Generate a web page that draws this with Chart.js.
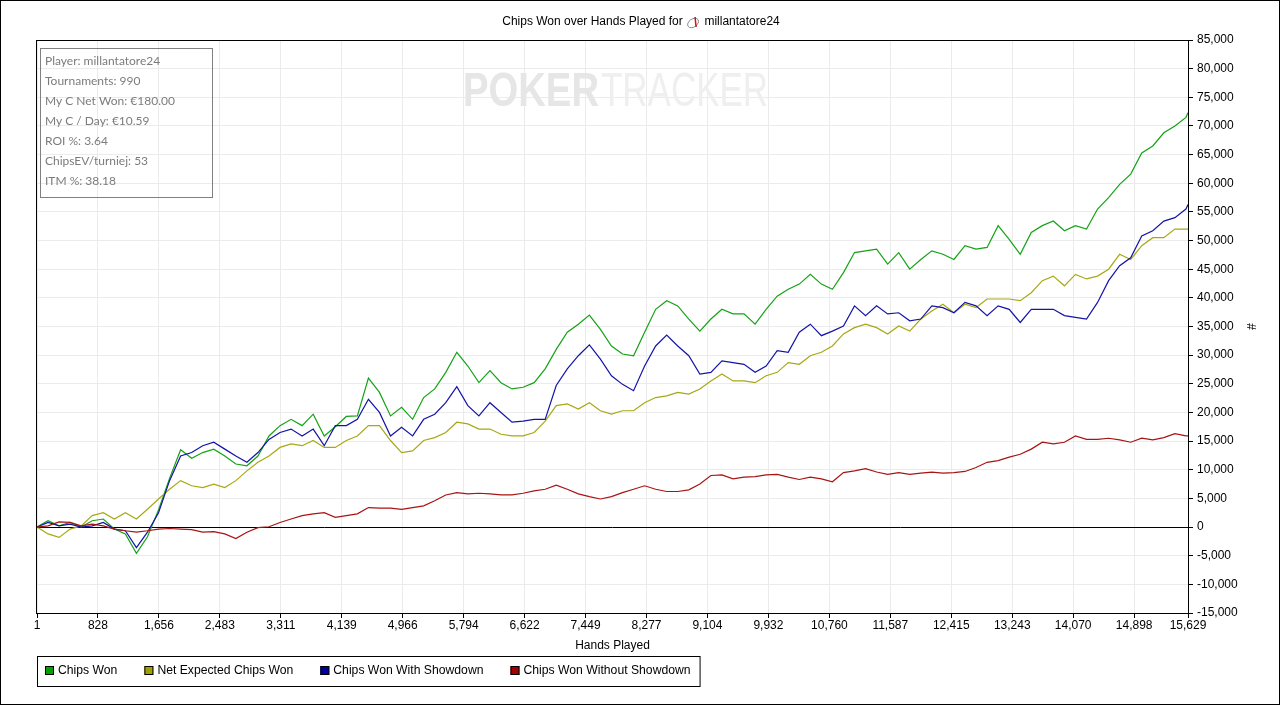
<!DOCTYPE html>
<html>
<head>
<meta charset="utf-8">
<title>Chips Won over Hands Played</title>
<script src="https://cdn.jsdelivr.net/npm/chart.js@4.4.1/dist/chart.umd.min.js"></script>
<style>
    html, body { margin: 0; padding: 0; background: #fff; overflow: hidden; }
    #chart { display: block; }
</style>
</head>
<body>
<canvas id="chart" width="1282" height="705"></canvas>
<script>
const hands = [1, 151, 301, 451, 601, 751, 901, 1051, 1201, 1351, 1501, 1651, 1801, 1951, 2101, 2251, 2401, 2551, 2701, 2851,
    3001, 3151, 3301, 3451, 3601, 3751, 3901, 4051, 4201, 4351, 4501, 4651, 4801, 4951, 5101, 5251, 5401, 5551, 5701, 5851,
    6001, 6151, 6301, 6451, 6601, 6751, 6901, 7051, 7201, 7351, 7501, 7651, 7801, 7951, 8101, 8251, 8401, 8551, 8701, 8851,
    9001, 9151, 9301, 9451, 9601, 9751, 9901, 10051, 10201, 10351, 10501, 10651, 10801, 10951, 11101, 11251, 11401, 11551, 11701, 11851,
    12001, 12151, 12301, 12451, 12601, 12751, 12901, 13051, 13201, 13351, 13501, 13651, 13801, 13951, 14101, 14251, 14401, 14551, 14701, 14851,
    15001, 15151, 15301, 15451, 15601, 15629];

const chipsWon = [0, 1100, 200, 800, 0, 1100, 1400, -350, -1200, -4600, -1700, 3000, 8500, 13500, 12000, 13000, 13600, 12400, 11000, 10700,
    12400, 15900, 17700, 18800, 17700, 19700, 15900, 17500, 19300, 19400, 26000, 23500, 19400, 20900, 18800, 22600, 24100, 27000, 30500, 28100,
    25200, 27300, 25200, 24100, 24400, 25200, 27600, 31000, 34000, 35400, 37000, 34500, 31600, 30200, 29900, 34000, 38000, 39500, 38600, 36300,
    34200, 36300, 38000, 37200, 37200, 35400, 38000, 40300, 41500, 42400, 44100, 42400, 41500, 44400, 47900, 48200, 48500, 45900, 47900, 45000,
    46700, 48200, 47600, 46700, 49100, 48500, 48800, 52600, 50200, 47600, 51400, 52600, 53400, 51700, 52600, 52000, 55500, 57500, 59800, 61600,
    65300, 66500, 68800, 70000, 71500, 72300];

const netExpected = [0, -1200, -1800, -350, 200, 2000, 2500, 1400, 2500, 1400, 3100, 4900, 6600, 8100, 7200, 6900, 7500, 6900, 8100, 9800,
    11300, 12400, 13900, 14500, 14200, 15100, 13900, 13900, 15100, 15900, 17700, 17700, 15100, 13000, 13300, 15100, 15600, 16500, 18300, 18000,
    17100, 17100, 16200, 15900, 15900, 16500, 18500, 21200, 21500, 20600, 21700, 20300, 19700, 20300, 20300, 21700, 22600, 22900, 23500, 23200,
    24100, 25500, 26700, 25500, 25500, 25200, 26400, 27000, 28700, 28400, 29900, 30500, 31600, 33700, 34800, 35400, 34800, 33700, 35100, 34200,
    36300, 37700, 38900, 37400, 38900, 38300, 39800, 39800, 39800, 39500, 40900, 43000, 43800, 42100, 44100, 43300, 43800, 45000, 47600, 46700,
    49100, 50500, 50500, 52000, 52000, 52000];

const withShowdown = [0, 800, 200, 500, 0, 200, 800, -350, -650, -3600, -900, 2500, 8100, 12400, 13000, 14200, 14800, 13600, 12400, 11300,
    13000, 15300, 16500, 17100, 15900, 17100, 14200, 17700, 17700, 18800, 22300, 20000, 15900, 17400, 15900, 18800, 19700, 21700, 24500, 21200,
    19400, 21700, 20000, 18300, 18500, 18800, 18800, 24700, 27600, 29900, 31800, 29300, 26400, 24900, 23800, 28100, 31600, 33500, 31600, 29900,
    26700, 27000, 29000, 28700, 28400, 27000, 28100, 30800, 30500, 34000, 35400, 33400, 34200, 35100, 38600, 36900, 38600, 37200, 37400, 36000,
    36300, 38600, 38300, 37400, 39200, 38600, 36900, 38600, 38000, 35700, 38000, 38000, 38000, 36900, 36600, 36300, 39200, 43000, 45600, 47000,
    50800, 51700, 53400, 54000, 55500, 56300];

const withoutShowdown = [0, 200, 900, 800, 200, 500, 200, -350, -650, -900, -650, -350, -250, -350, -450, -900, -800, -1200, -2000, -900,
    -100, 50, 800, 1400, 2000, 2300, 2500, 1700, 2000, 2300, 3400, 3300, 3300, 3100, 3400, 3700, 4600, 5600, 6000, 5800,
    5900, 5800, 5600, 5600, 5900, 6300, 6600, 7300, 6600, 5800, 5300, 4900, 5300, 6000, 6600, 7200, 6600, 6200, 6200, 6500,
    7500, 9000, 9100, 8400, 8700, 8800, 9100, 9200, 8700, 8300, 8700, 8400, 7900, 9500, 9800, 10200, 9600, 9200, 9500, 9200,
    9400, 9600, 9400, 9500, 9700, 10400, 11300, 11600, 12200, 12700, 13600, 14800, 14500, 14800, 15900, 15300, 15300, 15500, 15200, 14800,
    15500, 15200, 15600, 16300, 15900, 15900];

const seriesNames = ["Chips Won", "Net Expected Chips Won", "Chips Won With Showdown", "Chips Won Without Showdown"];
const xTicks = [1, 828, 1656, 2483, 3311, 4139, 4966, 5794, 6622, 7449, 8277, 9104, 9932, 10760, 11587, 12415, 13243, 14070, 14898, 15629];
const yTicks = [-15000, -10000, -5000, 0, 5000, 10000, 15000, 20000, 25000, 30000, 35000, 40000, 45000, 50000, 55000, 60000, 65000, 70000, 75000, 80000, 85000];

const titleText = "Chips Won over Hands Played for";
const playerName = "millantatore24";
const infoLines = [
    "Player: millantatore24",
    "Tournaments: 990",
    "My C Net Won: €180.00",
    "My C / Day: €10.59",
    "ROI %: 3.64",
    "ChipsEV/turniej: 53",
    "ITM %: 38.18"
];

const FONT = '"Liberation Sans", Arial, sans-serif';
const lineColors = ["#14a314", "#a8a814", "#1414a8", "#a81414"];
const legendColors = ["#00a000", "#a0a000", "#0000a0", "#a00000"];

const seriesValues = [chipsWon, netExpected, withShowdown, withoutShowdown];
const fmt = v => Number(v).toLocaleString("en-US");

// everything Chart.js does not draw by itself: frame, title, info box, watermark, legend
const decorations = {
    id: "decorations",
    beforeDatasetsDraw(chart) {
        const c = chart.ctx;
        c.save();
        c.textBaseline = "alphabetic";
        c.textAlign = "left";
        c.font = "bold 48px " + FONT;
        c.fillStyle = "#e6e6e6";
        c.fillText("POKER", 463, 106, 136);
        c.font = "48px " + FONT;
        c.fillStyle = "#efefef";
        c.fillText("TRACKER", 601, 106, 167);
        c.restore();
    },
    afterDraw(chart) {
        const c = chart.ctx;
        const area = chart.chartArea;
        c.save();

        // outer border
        c.strokeStyle = "#000";
        c.lineWidth = 1;
        c.strokeRect(0.5, 0.5, 1279, 704);

        // plot frame
        c.strokeRect(area.left - 0.5, area.top + 0.5, area.right - area.left + 1, area.bottom - area.top);

        // title with the little site icon
        c.font = "12px " + FONT;
        c.fillStyle = "#000";
        c.textBaseline = "middle";
        const w1 = c.measureText(titleText + " ").width;
        const iconW = 15;
        const w2 = c.measureText(" " + playerName).width;
        let tx = 641 - (w1 + iconW + w2) / 2;
        c.fillText(titleText + " ", tx, 22);
        const ix = tx + w1 + 7;
        c.strokeStyle = "#888";
        c.beginPath();
        c.ellipse(ix, 23, 6, 4, -0.6, 0, Math.PI * 2);
        c.stroke();
        c.strokeStyle = "#d01010";
        c.lineWidth = 1.5;
        c.beginPath();
        c.moveTo(ix + 2, 17);
        c.lineTo(ix + 3, 27);
        c.stroke();
        c.lineWidth = 1;
        c.fillText(" " + playerName, tx + w1 + iconW, 22);

        // info box
        c.strokeStyle = "#808080";
        c.strokeRect(40.5, 48.5, 172, 149);
        c.font = "12px Lato, " + FONT;
        c.fillStyle = "#7c7c7c";
        infoLines.forEach((line, i) => c.fillText(line, 45, 61 + i * 20));

        // legend
        c.font = "12.2px " + FONT;
        let lx = 45;
        const ly = 671;
        chart.data.datasets.forEach((ds, i) => {
            c.fillStyle = legendColors[i];
            c.fillRect(lx, ly - 5, 9, 9);
            c.strokeStyle = "#000";
            c.strokeRect(lx + 0.5, ly - 4.5, 8, 8);
            c.fillStyle = "#000";
            c.fillText(ds.label, lx + 13, ly);
            lx += 13 + c.measureText(ds.label).width + 27;
        });
        const boxRight = lx - 27 + 9;
        c.strokeStyle = "#000";
        c.strokeRect(37.5, 656.5, boxRight - 37, 30);

        c.restore();
    }
};

const ctx = document.getElementById("chart").getContext("2d");

new Chart(ctx, {
    type: "line",
    data: {
        datasets: seriesNames.map((name, i) => ({
            label: name,
            data: hands.map((h, j) => ({ x: h, y: seriesValues[i][j] })),
            borderColor: lineColors[i],
            backgroundColor: legendColors[i],
            borderWidth: 1.2,
            pointRadius: 0,
            tension: 0,
            fill: false,
            order: 3 - i
        }))
    },
    options: {
        responsive: false,
        animation: false,
        layout: { padding: { left: 37, top: 40, right: 0, bottom: 0 } },
        plugins: {
            legend: { display: false },
            title: { display: false },
            tooltip: { enabled: false }
        },
        scales: {
            x: {
                type: "linear",
                min: 1,
                max: 15629,
                afterBuildTicks: scale => { scale.ticks = xTicks.map(v => ({ value: v })); },
                afterFit: scale => { scale.height = 92; },
                ticks: {
                    autoSkip: false,
                    maxRotation: 0,
                    color: "#000",
                    padding: 0,
                    font: { family: FONT, size: 12 },
                    callback: v => fmt(v)
                },
                grid: { color: "#ebebeb", tickColor: "#000", tickLength: 5 },
                border: { color: "#000" },
                title: {
                    display: true,
                    text: "Hands Played",
                    color: "#000",
                    font: { family: FONT, size: 12 },
                    padding: { top: 0, bottom: 52 }
                }
            },
            y: {
                position: "right",
                min: -15000,
                max: 85000,
                afterBuildTicks: scale => { scale.ticks = yTicks.map(v => ({ value: v })); },
                afterFit: scale => { scale.width = 94; },
                ticks: {
                    color: "#000",
                    padding: 4,
                    font: { family: FONT, size: 12 },
                    callback: v => fmt(v)
                },
                grid: {
                    color: c => (c.tick && c.tick.value === 0 ? "#000" : "#ebebeb"),
                    tickColor: "#000",
                    tickLength: 5
                },
                border: { color: "#000" },
                title: {
                    display: true,
                    text: "#",
                    color: "#000",
                    font: { family: FONT, size: 12 },
                    padding: { top: 24, bottom: 0 }
                }
            }
        }
    },
    plugins: [decorations]
});
</script>
</body>
</html>
